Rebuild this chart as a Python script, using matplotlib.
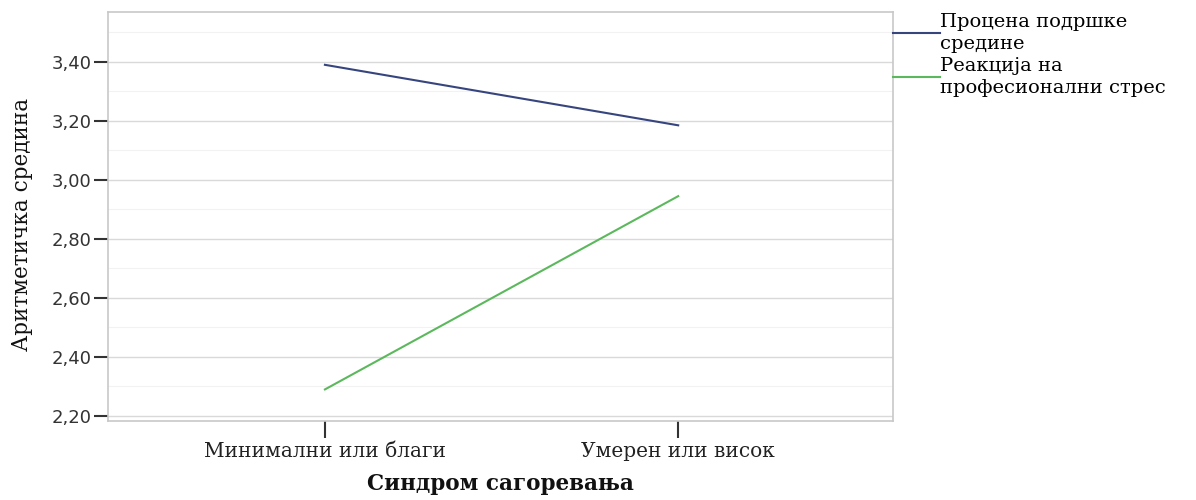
#!/usr/bin/env python3
# -*- coding: utf-8 -*-
import numpy as np
import matplotlib
matplotlib.use("Agg")
import matplotlib.pyplot as plt
from matplotlib.ticker import MultipleLocator, FuncFormatter

#===================================================================================#
## data
categories = ["Минимални или благи", "Умерен или висок"]
series_names = ["Процена подршке\nсредине", "Реакција на\nпрофесионални стрес"]
support_means = [3.39, 3.185]
stress_means = [2.29, 2.945]
series_colors = ["#37457e", "#5cb85c"]

## plot parameters
serif = "DejaVu Serif"
sans = "DejaVu Sans"
grid_col = "#d9d9d9"

#===================================================================================#
def main():
    fig = plt.figure(figsize=(11.96, 5.00), dpi=100)
    ax = fig.add_axes([108/1196, 79/500, (893-108)/1196, (421-12)/500])

    xdata = np.arange(len(categories))
    l1, = ax.plot(xdata, support_means, color=series_colors[0], linewidth=1.5, label=series_names[0])
    l2, = ax.plot(xdata, stress_means, color=series_colors[1], linewidth=1.5, label=series_names[1])

    ax.set_xlim(-0.614, 1.608)
    ax.set_ylim(2.183, 3.569)

    ax.yaxis.set_major_locator(MultipleLocator(0.2))
    ax.yaxis.set_minor_locator(MultipleLocator(0.1))
    ax.yaxis.set_major_formatter(FuncFormatter(lambda v, p: ("%.2f" % v).replace(".", ",")))
    ax.set_xticks(xdata)
    ax.set_xticklabels(categories, family=serif, fontsize=14.5, color="#222222")
    for lab in ax.get_yticklabels():
        lab.set_family(sans)
        lab.set_fontsize(13)
        lab.set_color("#333333")

    ax.grid(axis="y", which="major", color=grid_col, linewidth=1.0)
    ax.grid(axis="y", which="minor", color="#f2f2f2", linewidth=0.8)
    ax.set_axisbelow(True)
    ax.tick_params(axis="y", which="major", length=10, width=1.5, color="#333333", pad=2)
    ax.tick_params(axis="y", which="minor", length=0)
    ax.tick_params(axis="x", length=12, width=1.5, color="#333333", pad=3)
    for s in ax.spines.values():
        s.set_color("#c8c8c8")
        s.set_linewidth(1.2)

    ax.set_ylabel("Аритметичка средина", family=serif, fontsize=15.5, color="#111111")
    ax.yaxis.set_label_coords(-0.0955, 0.48)
    ax.set_xlabel("Синдром сагоревања", family=serif, fontsize=15.5, fontweight="bold", color="#111111")
    ax.xaxis.set_label_coords(0.5, -0.128)

    leg = ax.legend(handles=[l1, l2], loc="upper left", bbox_to_anchor=(1.0, 0.998),
                    frameon=False, handlelength=2.4, handletextpad=0.0, borderaxespad=0,
                    borderpad=0, labelspacing=0.2,
                    prop={"family": serif, "size": 14})
    for t in leg.get_texts():
        t.set_linespacing(1.3)

    fig.savefig("out.png", dpi=100, facecolor="white")

#===================================================================================#
if __name__ == '__main__':
    main()
